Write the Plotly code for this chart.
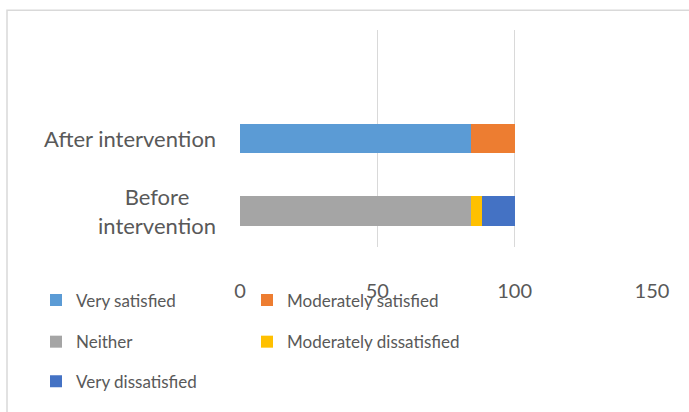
import plotly.graph_objects as go

categories = ["Before intervention", "After intervention"]
cat_labels = ["Before<br>intervention", "After intervention"]
series_names = ["Very satisfied", "Moderately satisfied", "Neither",
                "Moderately dissatisfied", "Very dissatisfied"]
very_satisfied = [0, 84]
moderately_satisfied = [0, 16]
neither = [84, 0]
moderately_dissatisfied = [4, 0]
very_dissatisfied = [12, 0]
x_ticks = [0, 50, 100, 150]

colors = ["#5B9BD5", "#ED7D31", "#A5A5A5", "#FFC000", "#4472C4"]
values = [very_satisfied, moderately_satisfied, neither,
          moderately_dissatisfied, very_dissatisfied]
legend_ids = ["legend", "legend2", "legend3", "legend4", "legend5"]

FONT = "Lato"
TXT = "#595959"
ypos = list(range(len(categories)))

fig = go.Figure()
for name, vals, col, lg in zip(series_names, values, colors, legend_ids):
    fig.add_trace(go.Bar(
        y=ypos, x=vals, name=name, orientation="h",
        marker=dict(color=col, line=dict(width=0)),
        legend=lg, hoverinfo="x+name",
    ))

W, H = 689, 412
L, R, T, B = 240, 37, 30, 163
ph = H - T - B
pw = W - L - R

def py(pix):
    return (H - B - pix) / ph

def px(pix):
    return (pix - L) / pw

leg_common = dict(orientation="h", xanchor="left", yanchor="middle",
                  traceorder="normal",
                  font=dict(family=FONT, size=17, color=TXT),
                  bgcolor="rgba(0,0,0,0)", itemclick=False)

# legend grid: 2 columns, 3 rows (pixel placement)
col_x = [36, 247]
row_y = [303, 345, 385]
legend_layout = {}
for i, lg in enumerate(legend_ids):
    r, c = divmod(i, 2)
    legend_layout[lg] = dict(x=px(col_x[c]), y=py(row_y[r]), **leg_common)

fig.update_layout(
    width=W, height=H,
    margin=dict(l=L, r=R, t=T, b=B, pad=0),
    paper_bgcolor="white", plot_bgcolor="white",
    barmode="stack", bargap=0.59,
    font=dict(family=FONT, color=TXT, size=19),
    xaxis=dict(range=[0, 150], tickvals=x_ticks, showgrid=True,
               gridcolor="#D9D9D9", gridwidth=1, zeroline=False,
               showline=False, ticks="", ticklabelstandoff=30,
               tickfont=dict(family=FONT, size=20, color=TXT),
               fixedrange=True),
    yaxis=dict(range=[-0.5, 2.5], showticklabels=False, showgrid=False,
               zeroline=False, showline=False, ticks="", fixedrange=True),
    showlegend=True,
    **legend_layout,
)

for yv, lab in zip(ypos, cat_labels):
    fig.add_annotation(x=0, xref="paper", y=yv, yref="y", text=lab,
                       showarrow=False, xanchor="right", yanchor="middle",
                       align="center", xshift=-22,
                       font=dict(family=FONT, size=22, color=TXT))

fig.add_shape(type="rect", xref="paper", yref="paper",
              x0=px(7), x1=px(700), y0=py(430), y1=py(10),
              line=dict(color="#D9D9D9", width=1.5), layer="below")

fig.write_html("out.html")
